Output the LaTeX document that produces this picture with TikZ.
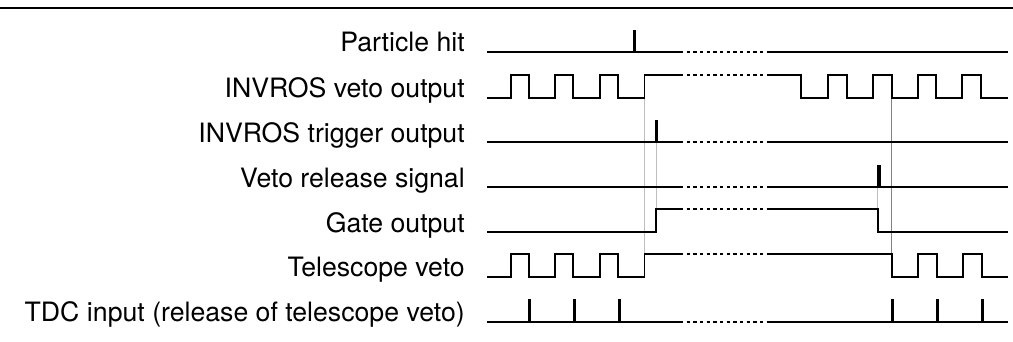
\documentclass[tikz,border=0pt]{standalone}
\usepackage{fontspec}
\setmainfont{TeX Gyre Heros}
\usepackage{tikz}
\usetikzlibrary{positioning,calc}
\definecolor{tdclair}{RGB}{190,190,190}
\definecolor{tdfonce}{RGB}{130,130,130}

\begin{document}
\begin{tikzpicture}[x=0.75pt,y=-0.75pt,
    sig/.style={line width=1.45pt, line join=miter},
    pulse/.style={line width=2.3pt},
    gap/.style={line width=1.45pt, dash pattern=on 2.5pt off 2.5pt},
    guide/.style={line width=0.6pt, draw=tdclair},
    siglabel/.style={anchor=base east, inner sep=0pt, font=\fontsize{20}{24}\selectfont}]
  \useasboundingbox (0,0) rectangle (1013,342);
  \draw[line width=1.6pt] (0,8) -- (1013,8);

  % guide lines
  \draw[guide] (644.5,98) -- (644.5,254);
  \draw[guide] (656,142.3) -- (656,209.3);
  \draw[guide] (877.7,187.3) -- (877.7,209.3);
  \draw[guide, draw=tdfonce] (891.7,98) -- (891.7,254);

  % labels
  \node[siglabel] (hit)   at (465,52)    {Particle hit};
  \node[siglabel] (iveto) at (465,98)    {INVROS veto output};
  \node[siglabel] (itrig) at (465,142.3) {INVROS trigger output};
  \node[siglabel] (rel)   at (465,187.3) {Veto release signal};
  \node[siglabel] (gate)  at (465,232.3) {Gate output};
  \node[siglabel] (tveto) at (465,276.7) {Telescope veto};
  \node[siglabel] (tdc)   at (465,321.7) {TDC input (release of telescope veto)};

  % dotted gaps
  \foreach \y in {52,75,142.3,187.3,209.3,254,321.7}
    \draw[gap] (680,\y) -- (767,\y);

  % particle hit
  \draw[sig] (487,52) -- (680,52) (767,52) -- (1008,52);
  \draw[pulse] (634.3,52) -- (634.3,30);

  % INVROS veto output
  \draw[sig] (487,98) foreach \x in {510.7,555.4,600.1} {
      -- (\x,98) -- (\x,75) -- (\x+18,75) -- (\x+18,98) }
    -- (644.5,98) -- (644.5,75) -- (680,75);
  \draw[sig] (767,75) -- (801,75) -- (801,98) foreach \x in {828.3,873,917.7,962.4} {
      -- (\x,98) -- (\x,75) -- (\x+18.7,75) -- (\x+18.7,98) }
    -- (1008,98);

  % INVROS trigger output
  \draw[sig] (487,142.3) -- (680,142.3) (767,142.3) -- (1008,142.3);
  \draw[pulse] (656.7,142.3) -- (656.7,120);

  % veto release signal
  \draw[sig] (487,187.3) -- (680,187.3) (767,187.3) -- (1008,187.3);
  \draw[pulse] (879,187.3) -- (879,165);

  % gate output
  \draw[sig] (487,232.3) -- (656,232.3) -- (656,209.3) -- (680,209.3);
  \draw[sig] (767,209.3) -- (877.7,209.3) -- (877.7,232.3) -- (1008,232.3);

  % telescope veto
  \draw[sig] (487,276.7) foreach \x in {510.7,555.4,600.1} {
      -- (\x,276.7) -- (\x,254) -- (\x+18,254) -- (\x+18,276.7) }
    -- (644.5,276.7) -- (644.5,254) -- (680,254);
  \draw[sig] (767,254) -- (891.7,254) -- (891.7,276.7) foreach \x in {918.3,963.3} {
      -- (\x,276.7) -- (\x,254) -- (\x+18.4,254) -- (\x+18.4,276.7) }
    -- (1008,276.7);

  % TDC input
  \draw[sig] (487,321.7) -- (680,321.7) (767,321.7) -- (1008,321.7);
  \foreach \x in {529.3,574.3,619.3,892.7,937.3,982.3}
    \draw[pulse] (\x,321.7) -- (\x,299);
\end{tikzpicture}
\end{document}
